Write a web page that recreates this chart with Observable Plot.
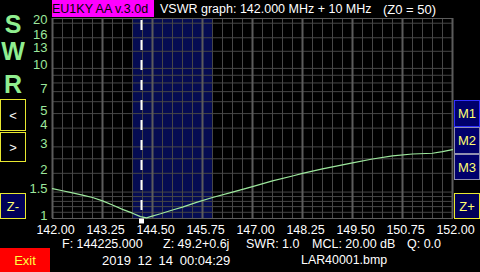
<!DOCTYPE html>
<html><head><meta charset="utf-8">
<script src="https://cdn.jsdelivr.net/npm/d3@7"></script>
<script src="https://cdn.jsdelivr.net/npm/@observablehq/plot@0.6"></script>
<style>
html,body{margin:0;padding:0;background:#000;}
#wrap{position:relative;width:480px;height:272px;overflow:hidden;background:#000;font-family:"Liberation Sans",Arial,sans-serif;}
#chart svg{position:absolute;left:0;top:0;}
.t{position:absolute;white-space:pre;line-height:1;color:#fff;font-size:13px;}
.info{font-size:12.5px;top:237.5px;}
.btn{position:absolute;box-sizing:border-box;display:flex;align-items:center;justify-content:center;font-size:13px;line-height:1;color:#ffff70;}
</style></head><body>
<div id="wrap">
<div id="chart"></div>
<div class="t" style="left:52px;top:0;width:102px;height:17px;background:#ff00ff;"></div>
<div class="t" style="left:52px;top:2.6px;font-size:12.5px;color:#000;">EU1KY AA v.3.0d</div>
<div class="t" style="left:160px;top:2.6px;font-size:12.5px;">VSWR graph: 142.000 MHz + 10 MHz</div>
<div class="t" style="left:383px;top:2.6px;font-size:13px;">(Z0 = 50)</div>
<div class="t" style="left:0;width:26px;text-align:center;top:11.5px;font-size:25px;font-weight:bold;color:#90ee90;">S</div>
<div class="t" style="left:0;width:26px;text-align:center;top:38.5px;font-size:25px;font-weight:bold;color:#90ee90;">W</div>
<div class="t" style="left:0;width:26px;text-align:center;top:71.5px;font-size:25px;font-weight:bold;color:#90ee90;">R</div>
<div class="btn" style="left:0;top:99px;width:26px;height:32px;border:1px solid #e8e830;color:#fff;">&lt;</div>
<div class="btn" style="left:0;top:132px;width:26px;height:30px;border:1px solid #e8e830;color:#fff;">&gt;</div>
<div class="btn" style="left:0;top:193px;width:26px;height:26px;border:1px solid #e8e830;background:#000058;">Z-</div>
<div class="btn" style="left:454px;top:100px;width:26px;height:27px;border:1px solid #3030ff;background:#00006c;">M1</div>
<div class="btn" style="left:454px;top:127px;width:26px;height:27px;border:1px solid #9090b0;background:#00006c;">M2</div>
<div class="btn" style="left:454px;top:154px;width:26px;height:26px;border:1px solid #9090b0;background:#00006c;">M3</div>
<div class="btn" style="left:454px;top:193px;width:26px;height:26px;border:1px solid #e8e830;background:#000058;">Z+</div>
<div class="t info" style="left:62px;">F: 144225.000</div>
<div class="t info" style="left:163px;">Z: 49.2+0.6j</div>
<div class="t info" style="left:246px;">SWR: 1.0</div>
<div class="t info" style="left:312px;">MCL: 20.00 dB</div>
<div class="t info" style="left:407px;">Q: 0.0</div>
<div class="btn" style="left:0;top:248px;width:50px;height:24px;background:#ff0000;color:#ffff40;">Exit</div>
<div class="t" style="left:102px;top:254px;word-spacing:3px;">2019 12 14 00:04:29</div>
<div class="t" style="left:301px;top:254px;font-size:12.4px;">LAR40001.bmp</div>
</div>
<script>
const freqMHz = [142.00,142.25,142.50,142.75,143.00,143.25,143.50,143.75,144.00,144.20,144.35,144.45,144.70,145.00,145.25,145.60,146.00,146.50,147.00,147.50,148.00,148.25,148.75,149.50,150.00,150.50,151.00,151.50,151.75,152.00];
const swr     = [1.58,1.53,1.48,1.43,1.38,1.31,1.23,1.15,1.085,1.03,1.01,1.03,1.075,1.14,1.19,1.28,1.38,1.50,1.63,1.78,1.92,2.00,2.14,2.35,2.49,2.61,2.69,2.72,2.79,2.88];
const bandMHz = [144, 146];
const markerMHz = 144.225;
const xMajorTicks = [142, 143.25, 144.5, 145.75, 147, 148.25, 149.5, 150.75, 152];
const xMinorTicks = [142,142.25,142.5,142.75,143,143.25,143.5,143.75,144,144.25,144.5,144.75,145,145.25,145.5,145.75,146,146.25,146.5,146.75,147,147.25,147.5,147.75,148,148.25,148.5,148.75,149,149.25,149.5,149.75,150,150.25,150.5,150.75,151,151.25,151.5,151.75,152];
const yGrid = [1.1,1.2,1.3,1.4,1.5,2,2.5,3,4,5,6,7,8,9,10,13,16,20];
const yLabels = [1,1.5,2,3,4,5,7,10,13,16,20];
const swrDomain = [1, 21.5];

const data = freqMHz.map((f, i) => ({f, s: swr[i]}));
const chart = Plot.plot({
  width: 480, height: 272,
  marginLeft: 52, marginRight: 28, marginTop: 18, marginBottom: 54,
  style: {background: "#000", color: "#fff", fontFamily: "Liberation Sans, Arial, sans-serif", fontSize: "13px", overflow: "visible"},
  x: {domain: [142, 152], axis: null},
  y: {type: "log", domain: swrDomain, axis: null},
  marks: [
    Plot.rect([bandMHz], {x1: d => d[0], x2: d => d[1], y1: swrDomain[0], y2: swrDomain[1], fill: "#050c52"}),
    Plot.ruleY(yGrid, {stroke: "#474747", strokeWidth: 1}),
    Plot.ruleX(xMinorTicks, {stroke: "#474747", strokeWidth: 1}),
    Plot.ruleX(xMajorTicks, {stroke: "#5c5c5c", strokeWidth: 2}),
    Plot.frame({stroke: "#5c5c5c"}),
    Plot.ruleX([markerMHz], {stroke: "#fff", strokeWidth: 2, strokeDasharray: "10,10", strokeDashoffset: 18}),
    Plot.line(data, {x: "f", y: "s", stroke: "#9de89d", strokeWidth: 1.2}),
    Plot.dot([markerMHz], {x: d => d, frameAnchor: "bottom", symbol: "square", r: 2.8, fill: "#fff", dy: 2.5}),
    Plot.text(yLabels, {y: d => d, frameAnchor: "left", textAnchor: "end", lineAnchor: "bottom", dx: -5, dy: 1, text: d => String(d), fill: "#9de89d", fontSize: 13}),
    Plot.text(xMajorTicks, {x: d => d, frameAnchor: "bottom", lineAnchor: "top", dy: 7, dx: 3, text: d => d.toFixed(2), fill: "#fff", fontSize: 12.5})
  ]
});
document.getElementById("chart").appendChild(chart);
</script>
</body></html>
